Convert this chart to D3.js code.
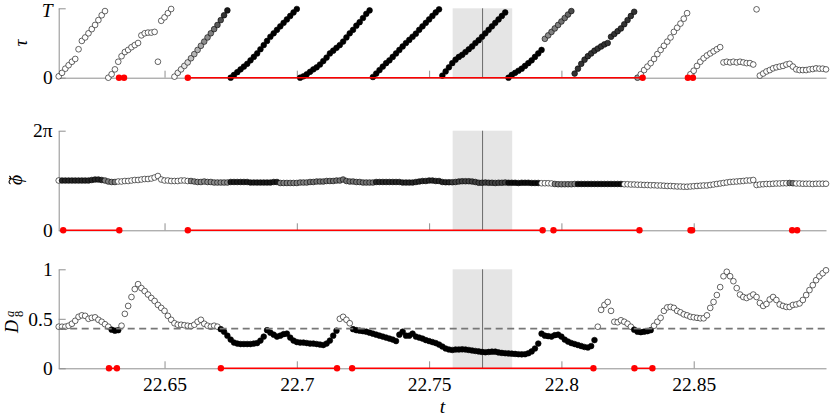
<!DOCTYPE html>
<html>
<head>
<meta charset="utf-8">
<script src="https://cdn.jsdelivr.net/npm/d3@7"></script>
<style>
  body { margin: 0; background: #fff; }
  svg { display: block; }
</style>
</head>
<body>
<script>
// sampling grid
const t0 = 22.61;
const dt = 0.00125;
const tRange = [22.61, 22.90];
const xTicks = [22.65, 22.7, 22.75, 22.8, 22.85];

// shaded window and marker line
const highlight = [22.7589, 22.7814];
const tMark = 22.7702;

// tau / T
const tauVals = [
  0.02,0.07,0.13,0.18,0.23,0.27,0.41,0.53,0.58,0.64,0.70,0.76,0.83,0.90,0.96,
  0.00,0.05,0.12,0.23,0.31,0.37,0.40,0.44,0.47,0.50,
  0.61,0.64,0.65,0.65,0.66,
  0.23,
  0.82,0.87,0.93,0.99,
  0.015,0.07,0.12,0.17,0.22,0.28,0.34,0.40,0.46,0.52,0.58,0.64,0.70,0.76,0.83,0.90,0.97,
  0.00,0.04,0.08,0.12,0.16,0.20,0.25,0.30,0.35,0.41,0.47,0.53,0.59,0.64,0.69,0.74,0.79,0.84,0.89,0.94,0.99,
  0.00,0.02,0.05,0.085,0.12,0.15,0.19,0.24,0.29,0.35,0.39,0.43,0.47,0.52,0.58,0.64,0.69,0.75,0.80,0.86,0.92,0.97,
  0.01,0.06,0.11,0.16,0.21,0.25,0.30,0.35,0.40,0.45,0.50,0.545,0.59,0.635,0.69,0.74,0.79,0.84,0.89,0.94,0.985,
  0.03,0.09,0.15,0.21,0.26,0.30,0.33,0.37,0.41,0.45,0.50,0.54,0.59,0.64,0.69,0.74,0.79,0.84,0.89,0.94,
  0.00,0.04,0.07,0.10,0.13,0.17,0.21,0.25,0.30,0.35,0.40,0.56,0.61,0.66,0.71,0.76,0.81,0.86,0.91,0.96,
  0.06,0.13,0.20,0.26,0.31,0.35,0.39,0.42,0.45,0.48,0.50,0.59,0.63,0.67,0.71,0.77,0.83,0.89,0.95,
  0.00,0.05,0.11,0.16,0.21,0.27,0.34,0.40,0.46,0.52,0.58,0.66,0.72,0.78,0.85,0.93,
  0.05,0.10,0.17,0.23,0.28,0.32,0.35,0.38,0.41,0.44,
  0.22,0.23,0.22,0.23,0.22,0.23,0.22,0.21,0.21,0.19,
  0.985,
  0.03,0.06,0.09,0.11,0.135,0.15,0.16,0.17,0.19,0.20,0.16,0.12,0.11,0.11,0.11,0.12,0.125,0.135,0.13,0.13,0.12
];
const tauShade = [
  0,0,0,0,0,0,0,0,0,0, 0,0,0,0,0,0,0,0,0,0, 0,0,0,0,0,0,0,0,0,0, 0,0,0,0,0,
  0,0.05,0.05,0.1,0.15,0.25,0.3,0.3,0.35,0.45,0.45,0.5,0.55,0.65,0.7,0.8,0.9,
  1,1,1,1,1,1,1,1,1,1, 1,1,1,1,1,1,1,1,1,1, 1,1,1,1,1,1,1,1,1,1, 1,1,1,1,1,1,1,1,1,1,
  1,1,1,1,1,1,1,1,1,1, 1,1,1,1,1,1,1,1,1,1, 1,1,1,1,1,1,1,1,1,1, 1,1,1,1,1,1,1,1,1,1,
  1,1,1,1,1,1,1,1,1,1, 1,1,1,1,1,
  0.45,0.45,0.5,0.5,0.5,0.55,0.55,0.6,0.7,
  0.8,0.8,0.8,0.8,0.8,0.8,0.8,0.8,0.8,0.8, 0.8,0.8,0.8,0.8,0.8,0.8,0.8,0.8,0.8,
  0.4,
  0,0,0,0,0,0,0,0,0,0, 0,0,0,0,0,0,0,0,0,0, 0,0,0,0,0,0,0,0,0,0, 0,0,0,0,0,0,0,0,0,0,
  0,0,0,0,0,0,0,0,0,0, 0,0,0,0,0,0,0
];
const tauRuns = [[22.6328, 22.6347], [22.6588, 22.8307], [22.8478, 22.8497]];

// phi tilde, in units of pi
const phiVals = [
  1.00,1.00,1.00,1.00,1.00,1.00,1.00,1.00,1.00,1.00,1.01,
  1.02,1.02,1.01,1.00,
  0.98,0.97,0.97,0.98,
  0.98,0.99,0.99,1.00,1.01,1.01,1.02,1.03,1.03,1.04,
  1.06,1.09,1.02,1.00,
  1.00,0.99,0.99,0.99,1.00,1.00,0.99,0.99,
  0.98,0.97,0.97,0.98,0.97,0.97,0.96,0.96,0.96,0.96,0.96,0.97,
  0.97,0.97,0.97,0.97,0.97,0.96,0.96,0.96,0.96,0.96,0.96,0.96,0.97,0.97,
  0.95,0.95,0.95,0.95,0.95,0.95,0.96,0.96,0.96,0.97,
  0.97,0.98,0.98,0.98,0.99,0.99,0.99,1.00,1.00,1.02,
  0.99,0.98,0.98,0.97,0.97,0.96,0.96,0.96,0.96,0.97,
  0.97,0.97,0.97,0.97,0.97,0.97,0.97,0.96,0.96,0.96,0.96,0.97,0.98,
  0.99,0.99,1.00,1.00,0.99,0.99,0.97,
  0.965,0.965,0.965,0.97,
  0.98,0.985,0.985,0.985,0.98,0.97,
  0.955,0.955,0.96,0.955,0.955,0.95,0.955,0.955,0.96,0.955,0.955,0.955,0.95,0.955,0.955,0.955,0.95,0.95,0.95,
  0.945,0.945,0.945,0.94,
  0.93,0.925,0.925,0.925,0.925,0.925,0.93,
  0.93,0.93,0.93,0.93,0.93,0.93,0.93,0.93,0.93,0.93,0.93,0.93,0.93,0.93,0.925,
  0.925,0.92,0.92,0.915,0.915,0.91,0.91,0.905,0.905,0.90,0.90,0.895,0.89,0.89,0.885,0.88,0.88,0.875,0.875,
  0.88,0.885,0.89,0.895,0.90,0.90,0.91,0.92,0.93,0.94,
  0.95,0.96,0.97,0.975,0.98,0.985,0.99,1.00,1.00,1.01,
  0.91,
  0.92,0.925,0.93,0.93,0.935,0.94,0.94,0.945,0.945,0.95,
  0.945,0.94,0.94,0.935,0.935,0.935,0.93,0.935,0.935,0.935,0.935
];
const phiShade = [
  0,
  0.85,0.85,0.85,0.85,0.85,0.85,0.85,0.85,0.85,0.85,0.85,0.85,0.85,
  0.5,0.5,0.5,0.5,
  0,0,0,0,0,0,0,0,0,0, 0,0,0,0,0,0,0,0,0,0, 0,0,
  0.45,0.45,0.45,0.45,0.45,0.45,0.45,0.45,0.45,0.45,0.45,0.45,
  0.9,0.9,0.9,0.9,0.9,0.9,0.9,0.9,0.9,0.9,0.9,0.9,0.9,0.9,0.9,
  0.5,0.5,0.5,0.5,0.5,0.5,0.5,0.5,0.5,
  0.55,0.55,0.55,0.55,0.55,0.55,0.55,0.55,0.55,0.55, 0.55,0.55,0.55,0.55,0.55,0.55,0.55,0.55,0.55,0.55,
  0.85,0.85,0.85,0.85,0.85,0.85,0.85,0.85,0.85,0.85, 0.85,0.85,0.85,0.85,0.85,0.85,0.85,0.85,0.85,0.85, 0.85,0.85,0.85,
  0.75,0.75,0.75,0.75,0.75,0.75,0.75,0.75,0.75,0.75, 0.75,0.75,0.75,0.75,0.75,0.75,0.75,
  0.95,0.95,0.95,0.95,0.95,0.95,0.95,0.95,0.95,0.95,
  0,0,0,0,
  0.5,0.5,0.5,0.5,0.5,0.5,0.5,
  0.95,0.95,0.95,0.95,0.95,0.95,0.95,0.95,0.95,0.95,0.95,0.95,0.95,0.95,
  0,0,0,0,0,0,0,0,0,0, 0,0,0,0,0,0,0,0,0,0, 0,0,0,0,0,0,0,0,0,0, 0,0,0,0,0,0,0,0,0,0,
  0,0,0,0,0,0,0,0,0,0,
  0.5,0.5,
  0,0,0,0,0,0,0,0,0,0
];
const phiRuns = [[22.6117, 22.6329], [22.6588, 22.7929], [22.7970, 22.8295], [22.8488, 22.8494], [22.8872, 22.8891]];

// D_8^a
const dVals = [
  0.42,0.42,0.42,0.43,0.45,0.48,0.52,0.535,0.53,0.50,0.51,0.515,0.49,0.47,0.445,0.42,0.39,0.38,0.385,
  0.43,0.55,0.63,0.72,0.80,0.85,0.81,0.78,0.745,0.71,0.68,0.64,0.61,0.58,0.53,0.49,0.455,0.44,0.44,0.435,0.43,0.425,0.44,0.47,0.49,0.45,0.43,0.42,0.43,0.42,
  0.395,0.37,0.33,0.29,0.26,0.25,0.245,0.245,0.245,0.245,0.25,0.255,0.28,0.32,0.385,0.36,0.34,0.32,0.33,0.345,0.35,0.31,0.28,0.265,
  0.26,0.26,0.255,0.25,0.25,0.245,0.24,0.235,0.25,0.28,0.33,0.38,
  0.50,0.52,0.49,0.455,
  0.395,0.385,0.38,0.375,0.37,0.36,0.35,0.34,0.33,0.32,0.31,0.30,0.29,0.275,
  0.34,0.37,0.33,0.33,0.35,0.32,0.31,0.30,0.285,0.275,0.265,0.255,
  0.24,0.22,0.20,0.19,0.185,0.19,0.19,0.192,0.19,0.185,0.18,0.175,0.17,0.165,0.162,0.165,0.168,0.168,0.16,0.155,0.152,0.15,0.148,0.145,0.142,0.141,0.142,
  0.152,0.17,0.20,0.25,
  0.35,0.33,0.325,0.32,0.335,0.34,0.32,0.29,0.27,0.255,0.245,0.235,0.225,0.215,0.21,0.225,0.285,
  0.42,0.59,0.64,0.67,0.58,0.47,0.465,0.485,0.47,0.45,0.42,0.39,0.37,0.365,0.37,0.375,0.385,
  0.43,0.47,0.51,0.58,0.615,0.62,0.61,0.58,0.565,0.545,0.535,0.52,0.515,0.51,0.505,0.505,
  0.535,0.61,0.67,0.74,0.82,0.93,0.975,0.93,0.88,0.81,0.745,0.72,0.71,0.725,0.745,0.72,0.66,0.63,0.65,0.695,
  0.72,0.69,0.645,0.63,0.62,0.62,0.64,0.645,0.655,0.69,0.74,0.79,0.84,0.89,0.93,0.96,0.99
];
const dThreshold = 0.4;
const dRuns = [[22.6290, 22.6320], [22.6713, 22.7152], [22.7209, 22.8121], [22.8276, 22.8344]];

const W = 830, H = 418;
const axisGray = "#8f8f8f";
const serif = "'Liberation Serif', 'DejaVu Serif', serif";

const svg = d3.select("body").append("svg")
  .attr("width", W)
  .attr("height", H)
  .attr("font-family", serif)
  .attr("font-size", 19.5);

const times = tauVals.map((_, i) => t0 + i * dt);
const x = d3.scaleLinear().domain(tRange).range([58.7, 826]);
const shadeColor = d3.interpolateRgb("#ffffff", "#000000");

const panels = [
  {
    vals: tauVals, shade: tauShade, runs: tauRuns,
    y: d3.scaleLinear().domain([0, 1]).range([77.7, 8.3]),
    yTicks: [0, 1], yLabels: ["0", "T"],
  },
  {
    vals: phiVals, shade: phiShade, runs: phiRuns,
    y: d3.scaleLinear().domain([0, 2]).range([230.3, 130.7]),
    yTicks: [0, 2], yLabels: ["0", "2π"],
  },
  {
    vals: dVals, shade: dVals.map((d) => (d < dThreshold ? 1 : 0)), runs: dRuns,
    y: d3.scaleLinear().domain([0, 1]).range([368.3, 269.3]),
    yTicks: [0, 0.5, 1], yLabels: ["0", "0.5", "1"],
    xLabels: true, threshold: dThreshold,
  },
];

panels.forEach((p) => {
  const g = svg.append("g");
  const [yb, yt] = p.y.range();

  g.append("rect")
    .attr("x", x(highlight[0]))
    .attr("width", x(highlight[1]) - x(highlight[0]))
    .attr("y", yt)
    .attr("height", yb - yt)
    .attr("fill", "#e5e5e5");

  g.append("line")
    .attr("x1", x(tMark)).attr("x2", x(tMark))
    .attr("y1", yt).attr("y2", yb)
    .attr("stroke", "#6a6a6a")
    .attr("stroke-width", 1);

  const xa = g.append("g")
    .attr("transform", `translate(0,${yb})`)
    .call(
      d3.axisBottom(x)
        .tickValues(xTicks)
        .tickSizeInner(-7)
        .tickSizeOuter(0)
        .tickPadding(9)
        .tickFormat((d) => (p.xLabels ? String(d) : ""))
    );

  const ya = g.append("g")
    .attr("transform", `translate(${x(tRange[0])},0)`)
    .call(
      d3.axisLeft(p.y)
        .tickValues(p.yTicks)
        .tickSizeInner(-7)
        .tickSizeOuter(0)
        .tickPadding(6)
        .tickFormat((d, i) => p.yLabels[i])
    );

  [xa, ya].forEach((a) => {
    a.attr("font-size", null).attr("font-family", null).attr("color", axisGray);
    a.selectAll("text").attr("fill", "#000");
  });
  ya.selectAll("text")
    .style("font-style", (d, i) => (p.yLabels[i] === "T" ? "italic" : null))
    .attr("dy", (d, i) => (p.yLabels[i] === "T" ? "0.42em" : "0.32em"));

  g.append("g")
    .selectAll("circle")
    .data(p.vals)
    .join("circle")
    .attr("cx", (d, i) => x(times[i]))
    .attr("cy", (d) => p.y(d))
    .attr("r", 2.85)
    .attr("fill", (d, i) => shadeColor(p.shade[i]))
    .attr("stroke", "#000")
    .attr("stroke-width", 0.6);

  if (p.threshold !== undefined) {
    g.append("line")
      .attr("x1", x(tRange[0])).attr("x2", x(tRange[1]))
      .attr("y1", p.y(p.threshold)).attr("y2", p.y(p.threshold))
      .attr("stroke", "#777")
      .attr("stroke-width", 1.8)
      .attr("stroke-dasharray", "7,4.5");
  }

  const rg = g.append("g");
  rg.selectAll("line")
    .data(p.runs)
    .join("line")
    .attr("x1", (d) => x(d[0])).attr("x2", (d) => x(d[1]))
    .attr("y1", yb).attr("y2", yb)
    .attr("stroke", "#ff0000")
    .attr("stroke-width", 1.5);
  rg.selectAll("circle")
    .data(p.runs.flat())
    .join("circle")
    .attr("cx", (d) => x(d))
    .attr("cy", yb)
    .attr("r", 3.2)
    .attr("fill", "#ff0000");
});

// axis labels
svg.append("text")
  .attr("transform", "translate(27,43) rotate(-90)")
  .attr("text-anchor", "middle")
  .style("font-style", "italic")
  .text("τ");

const phiLab = svg.append("g").attr("transform", "translate(22,180) rotate(-90)");
phiLab.append("text")
  .attr("text-anchor", "middle")
  .style("font-style", "italic")
  .text("ϕ");
phiLab.append("path")
  .attr("d", "M-4,-11.5 C-2.8,-13.6 -1.2,-13.1 0,-12.1 S2.8,-10.6 4,-12.7")
  .attr("fill", "none")
  .attr("stroke", "#000")
  .attr("stroke-width", 1.1);

const dLab = svg.append("g").attr("transform", "translate(18,333) rotate(-90)");
dLab.append("text").attr("font-size", 18).style("font-style", "italic").text("D");
dLab.append("text").attr("x", 16).attr("y", 5).attr("font-size", 12.5).text("8");
dLab.append("text").attr("x", 16).attr("y", -4).attr("font-size", 12.5).style("font-style", "italic").text("a");

svg.append("text")
  .attr("x", x((tRange[0] + tRange[1]) / 2))
  .attr("y", 413)
  .attr("text-anchor", "middle")
  .style("font-style", "italic")
  .text("t");
</script>
</body>
</html>
